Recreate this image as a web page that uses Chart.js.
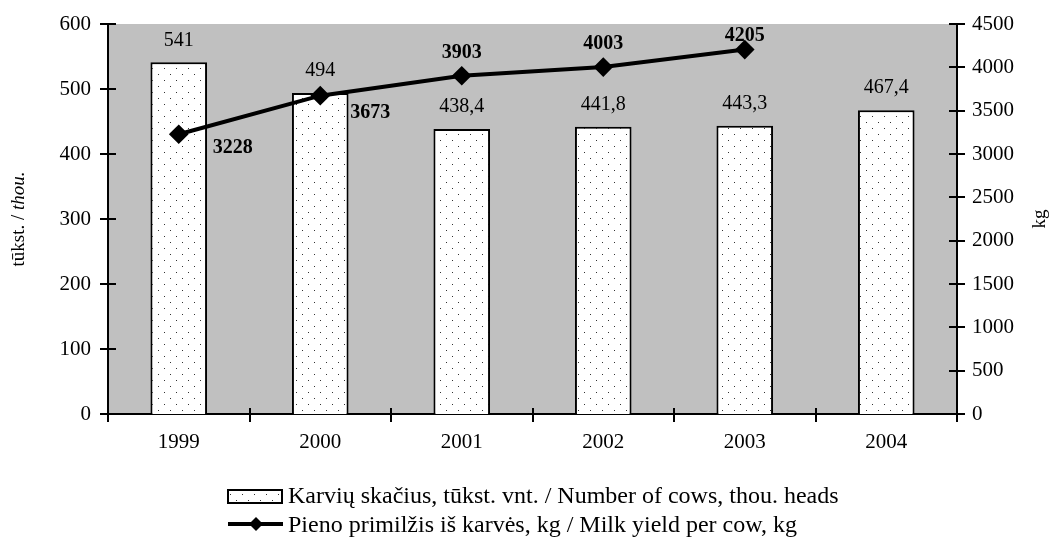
<!DOCTYPE html>
<html>
<head>
<meta charset="utf-8">
<script src="https://cdn.jsdelivr.net/npm/chart.js@4/dist/chart.umd.min.js"></script>
<style>
  html, body { margin: 0; padding: 0; background: #fff; }
  #wrap { width: 1062px; height: 545px; }
</style>
</head>
<body>
<div id="wrap"><canvas id="cows"></canvas></div>
<script>
const years = ["1999", "2000", "2001", "2002", "2003", "2004"];
const cowsThou = [541, 494, 438.4, 441.8, 443.3, 467.4];
const milkYield = [3228, 3673, 3903, 4003, 4205, null];
const leftTicks = [0, 100, 200, 300, 400, 500, 600];
const rightTicks = [0, 500, 1000, 1500, 2000, 2500, 3000, 3500, 4000, 4500];

const barLegend = "Karvių skačius, tūkst. vnt. / Number of cows, thou. heads";
const lineLegend = "Pieno primilžis iš karvės, kg / Milk yield per cow, kg";

// where the yield labels sit relative to their point (px)
const yieldLabelOffset = [[54, 14], [50, 17], [0, -23], [0, -23], [0, -14]];

const FONT = "'Liberation Serif', 'Times New Roman', 'DejaVu Serif', serif";

function dotPattern() {
  const c = document.createElement("canvas");
  c.width = 12; c.height = 12;
  const g = c.getContext("2d");
  g.fillStyle = "#fff";
  g.fillRect(0, 0, 12, 12);
  g.fillStyle = "#333";
  g.fillRect(2, 2, 1, 1);
  g.fillRect(8, 8, 1, 1);
  return g.createPattern(c, "repeat");
}
const dots = dotPattern();

const extras = {
  id: "extras",
  beforeDraw(chart) {
    const a = chart.chartArea, ctx = chart.ctx;
    ctx.save();
    ctx.fillStyle = "#c0c0c0";
    ctx.fillRect(a.left, a.top, a.right - a.left, a.bottom - a.top);
    ctx.restore();
  },
  afterDraw(chart) {
    const ctx = chart.ctx, a = chart.chartArea;
    const x = chart.scales.x, y = chart.scales.y, y1 = chart.scales.y1;
    ctx.save();
    ctx.strokeStyle = "#000";
    ctx.lineWidth = 2;
    // ticks crossing the axes
    ctx.beginPath();
    leftTicks.forEach(v => {
      const p = Math.round(y.getPixelForValue(v));
      ctx.moveTo(a.left - 8, p); ctx.lineTo(a.left + 8, p);
    });
    rightTicks.forEach(v => {
      const p = Math.round(y1.getPixelForValue(v));
      ctx.moveTo(a.right - 8, p); ctx.lineTo(a.right + 8, p);
    });
    const half = (x.getPixelForValue(1) - x.getPixelForValue(0)) / 2;
    for (let i = 0; i <= years.length; i++) {
      const p = Math.round(x.getPixelForValue(i) - half);
      ctx.moveTo(p, a.bottom - 6); ctx.lineTo(p, a.bottom + 8);
    }
    ctx.stroke();

    // value labels
    ctx.fillStyle = "#000";
    ctx.textAlign = "center";
    ctx.textBaseline = "middle";
    ctx.font = "20px " + FONT;
    chart.getDatasetMeta(0).data.forEach((bar, i) => {
      ctx.fillText(String(cowsThou[i]).replace(".", ","), bar.x, bar.y - 22);
    });
    ctx.font = "bold 20px " + FONT;
    chart.getDatasetMeta(1).data.forEach((pt, i) => {
      if (milkYield[i] == null) return;
      const o = yieldLabelOffset[i];
      ctx.fillText(String(milkYield[i]), pt.x + o[0], pt.y + o[1]);
    });

    // axis titles
    ctx.save();
    ctx.translate(19, (a.top + a.bottom) / 2);
    ctx.rotate(-Math.PI / 2);
    const t1 = "tūkst. / ", t2 = "thou.";
    ctx.font = "19px " + FONT;
    const w1 = ctx.measureText(t1).width;
    ctx.font = "italic 19px " + FONT;
    const w2 = ctx.measureText(t2).width;
    ctx.textAlign = "left";
    ctx.font = "19px " + FONT;
    ctx.fillText(t1, -(w1 + w2) / 2, 0);
    ctx.font = "italic 19px " + FONT;
    ctx.fillText(t2, -(w1 + w2) / 2 + w1, 0);
    ctx.restore();
    ctx.save();
    ctx.translate(1040, (a.top + a.bottom) / 2);
    ctx.rotate(-Math.PI / 2);
    ctx.font = "19px " + FONT;
    ctx.fillText("kg", 0, 0);
    ctx.restore();

    // legend
    const lx = 228;
    ctx.fillStyle = dots;
    ctx.fillRect(lx, 490, 54, 13);
    ctx.lineWidth = 2;
    ctx.strokeRect(lx, 490, 54, 13);
    ctx.lineWidth = 4;
    ctx.beginPath();
    ctx.moveTo(lx, 524); ctx.lineTo(lx + 55, 524);
    ctx.stroke();
    ctx.fillStyle = "#000";
    ctx.beginPath();
    ctx.moveTo(lx + 28, 517); ctx.lineTo(lx + 35, 524);
    ctx.lineTo(lx + 28, 531); ctx.lineTo(lx + 21, 524);
    ctx.closePath();
    ctx.fill();
    ctx.font = "24px " + FONT;
    ctx.textAlign = "left";
    ctx.fillText(barLegend, 288, 497);
    ctx.fillText(lineLegend, 288, 526);
    ctx.restore();
  }
};

const tickFont = { family: FONT, size: 21 };

new Chart(document.getElementById("cows"), {
  type: "bar",
  data: {
    labels: years,
    datasets: [{
        type: "bar",
        data: cowsThou,
        label: barLegend,
        yAxisID: "y",
        backgroundColor: dots,
        borderColor: "#000",
        borderWidth: 2,
        barPercentage: 0.4,
        categoryPercentage: 1,
        order: 2
      },
      {
        type: "line",
        data: milkYield,
        label: lineLegend,
        yAxisID: "y1",
        borderColor: "#000",
        borderWidth: 4,
        pointStyle: "rectRot",
        pointRadius: 7,
        pointBackgroundColor: "#000",
        pointBorderColor: "#000",
        order: 1
      }
    ]
  },
  options: {
    responsive: true,
    maintainAspectRatio: false,
    animation: false,
    layout: { padding: { top: 24, left: 0, right: 0, bottom: 0 } },
    plugins: { legend: { display: false }, tooltip: { enabled: false } },
    scales: {
      x: {
        grid: { display: false, drawTicks: false },
        border: { display: true, color: "#000", width: 2 },
        ticks: { color: "#000", font: tickFont, padding: 16 },
        afterFit(s) { s.height = 131; s.paddingLeft = 0; s.paddingRight = 0; }
      },
      y: {
        position: "left",
        min: 0, max: 600,
        grid: { display: false, drawTicks: false },
        border: { display: true, color: "#000", width: 2 },
        ticks: { stepSize: 100, color: "#000", font: tickFont, padding: 17 },
        afterFit(s) { s.width = 108; s.paddingTop = 0; s.paddingBottom = 0; }
      },
      y1: {
        position: "right",
        min: 0, max: 4500,
        grid: { display: false, drawTicks: false },
        border: { display: true, color: "#000", width: 2 },
        ticks: { stepSize: 500, color: "#000", font: tickFont, padding: 15, callback: v => String(v) },
        afterFit(s) { s.width = 105; s.paddingTop = 0; s.paddingBottom = 0; }
      }
    }
  },
  plugins: [extras]
});
</script>
</body>
</html>
